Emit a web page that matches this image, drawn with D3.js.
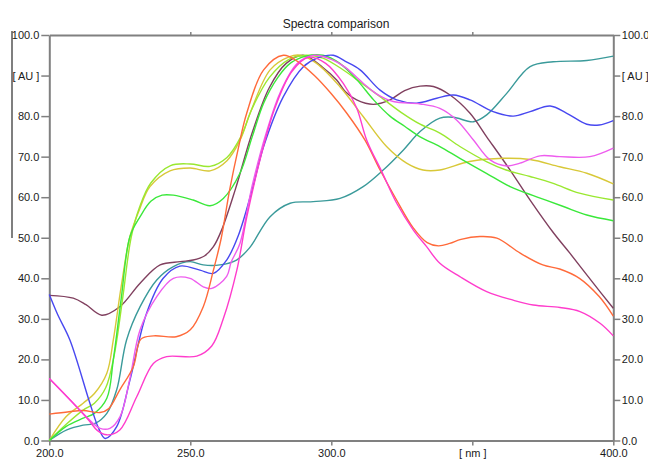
<!DOCTYPE html>
<html>
<head>
<meta charset="utf-8">
<script src="https://cdn.jsdelivr.net/npm/d3@7"></script>
<style>
	html, body { margin:0; padding:0; background:#fff; }
	svg text { font-family: "Liberation Sans", Arial, sans-serif; fill:#1a1a1a; }
	.axis path, .axis line { stroke:#808080; }
	.axis path { stroke-width:2; }
	.axis line { stroke-width:1.5; }
	.spectrum { fill:none; stroke-width:1.4; stroke-linejoin:round; }
</style>
</head>
<body>
<div id="chart"></div>
<script>

// spectra, [nm, AU]
const orange = [[200,6.5],[207,7.1],[212,7.4],[218,6.9],[221,7.8],[225,12.5],[229.8,18.2],[232.5,25],[237,25.8],[245,25.6],[250,27.3],[254.6,33],[258.2,42],[261,50],[264,62],[267,72],[270,80.7],[276,91.4],[283,95],[288,93.5],[294,90],[300,85.5],[305.5,80.7],[312,74],[317.3,66.7],[323,59.5],[329,52.5],[334,48.8],[338,48],[342,48.6],[346,49.6],[352.7,50.3],[358.7,49.9],[367,46.2],[375,43.3],[381,42.3],[388,40],[395,35.5],[400,30.7]];
const yellow = [[200,0],[206,5.9],[212,9.2],[216,11.6],[220.4,16.6],[222.7,24.8],[225.5,38],[228.6,50.3],[232,57],[235.7,62.6],[242.8,66.5],[250,67.2],[257,66.5],[263,69],[267.6,74],[271.2,80.7],[278.3,91.4],[285,94.6],[289,95],[294.8,93],[303,87.3],[311.3,79.9],[319.6,72.5],[326.7,68.4],[332.5,66.7],[338.5,66.7],[349,68.8],[361,69.6],[370.5,69.3],[381,67.5],[390.6,65.9],[400,63.3]];
const lime = [[200,0],[206,4],[212,7.5],[216,9.2],[220,13],[223,21],[226,35],[229,50],[232,57.5],[236,63.5],[243,67.8],[250,68.2],[257,67.6],[263,69.8],[268,75],[272,82],[278,89.5],[285,94],[291,95],[297,94.3],[304,91.5],[311,88],[317.3,84.8],[325,80.8],[331.5,78],[338.5,75.8],[345.6,72.5],[355,68.8],[362,66.7],[370.5,65.1],[378.7,63.4],[388,61],[400,59.3]];
const green = [[200,0],[206,3.5],[212,5.5],[216,6.7],[220.4,10.4],[222.7,19.9],[225.5,35],[228.6,50.3],[232.2,55.2],[236,59],[240,60.5],[244,60.5],[251,59.3],[257,57.9],[261.7,59.7],[267.6,65.9],[272,75],[276,83.2],[281,89.5],[285.4,93],[291,94.8],[297,95],[303,93],[309,89],[315,84],[320.8,80],[326,77.5],[331.5,74.9],[338.5,72.5],[345.6,69.6],[355,65.9],[363.4,62.6],[372.8,60.1],[382.3,57.7],[390.6,55.6],[400,54.2]];
const brown = [[200,35.8],[208.5,35.1],[213,33.5],[218.6,30.9],[225,33],[232.2,38.8],[239.3,43.3],[246.4,44.1],[251,44.5],[255,45.5],[258.2,47.8],[261.1,51.9],[266,62],[272,76],[278,87],[284,93],[290,95],[297,92],[301.9,88.9],[305,86],[309,84],[314.9,82.9],[320.8,84],[326,86.3],[331.5,87.4],[336.2,87.3],[342.1,85.2],[349.2,80.7],[355.1,74.9],[363.4,66.7],[370.5,59.3],[378.7,51.3],[384.6,46.2],[392.9,38.8],[400,32.6]];
const teal = [[200,0],[206.2,2.6],[212,3.8],[216.2,4.2],[220.4,6.7],[223.9,12.5],[227.4,24.8],[232.2,33],[238.1,39.6],[244,42.9],[249.9,44.1],[254.6,43.3],[260.5,43.3],[266.4,44.5],[271,47.5],[278.3,55.2],[285.4,58.5],[293.6,58.9],[303.1,59.7],[311.3,62.6],[318.4,66.7],[325.5,71.6],[331.5,76.2],[338.5,79.5],[343.3,79.7],[350.4,78.6],[355.1,80.3],[362.2,85.6],[370.5,92.2],[378.7,93.4],[390.6,93.7],[400,94.8]];
const blue = [[200,36],[203,31],[207.3,24.8],[214.4,9.2],[217.5,3],[219.8,0.5],[223.9,3.4],[228.6,14.9],[234.5,31.4],[240.4,40],[246.3,43],[253.4,42],[258.2,41.2],[262.9,44.5],[267,50.5],[272,62],[276,72.5],[283,84.8],[290.1,92.2],[295,94.3],[300.7,95],[305,93.5],[310.2,91.4],[317.3,86.4],[323.2,84],[330.3,83.2],[337.4,84.4],[343.3,85.2],[349.2,84],[357.4,81.1],[364.5,80],[370.5,81.1],[377.6,82.5],[383.5,80.7],[390.6,78],[395,77.8],[400,78.9]];
const magenta = [[200,15.3],[208.5,9.2],[215.6,4.2],[218,3],[221.5,3],[225.1,5.9],[228.5,15],[232.2,27.3],[238.1,35.5],[244,40],[249.9,40],[254.6,37.9],[257.6,37.5],[262.9,40.5],[264.5,44],[267.6,48.6],[272,63],[277,76],[282,86],[288,93],[294,95],[300,94],[305,92],[311.3,88.1],[316,85.5],[322,83.6],[331.5,83],[338.5,81.9],[344.5,79],[350.4,74.1],[356.3,69.2],[362.2,67.7],[366.9,68.4],[374,70.2],[381.1,70],[391.7,70],[400,72.1]];
const pink = [[200,15.3],[208.5,9.2],[214,5],[217,2.5],[220.4,1.4],[225,2.6],[231,10.8],[236.9,19],[241.6,20.7],[252.3,20.8],[257.6,23.3],[261.7,30],[266.5,42],[270,55],[275,70],[280,82],[286,91],[292,94.5],[298,93],[304.3,88],[309,82],[312.6,74],[317.9,66.3],[323.2,58.5],[329.1,51.9],[333.8,47.8],[338.5,43.7],[345.6,40.4],[355.1,36.7],[364.5,34.6],[371.6,33.4],[381.1,32.8],[388.2,31.8],[395.3,28.9],[400,25.8]];

const seriesNames = ['teal','brown','yellow','lime','green','blue','magenta','orange','pink'];
const seriesData = [teal, brown, yellow, lime, green, blue, magenta, orange, pink];
const seriesColors = ['#3a9a9a','#80405f','#d8c838','#9ae830','#3ae83a','#4848f0','#ee5cee','#ff6a3a','#ff3ccc'];

const yTicks = [0,10,20,30,40,50,60,70,80,90,100];
const xTicks = [200,250,300,350,400];
const title = 'Spectra comparison';

const width = 648;
const height = 465;
const margin = {t:35, r:34.7, b:24.5, l:49.3};
const w = width - margin.l - margin.r;
const h = height - margin.t - margin.b;

const svg = d3.select('#chart').append('svg')
	.attr('width', width)
	.attr('height', height);

// odd stray rule at the far left of the original figure
svg.append('line')
	.attr('x1', 12).attr('x2', 12)
	.attr('y1', 31).attr('y2', 238)
	.style('stroke', '#555')
	.style('stroke-width', 1.5);

svg.append('text')
	.attr('x', 336)
	.attr('y', 28)
	.attr('text-anchor', 'middle')
	.style('font-size', '12px')
	.text(title);

const plot = svg.append('g')
	.attr('transform', `translate(${margin.l},${margin.t})`);

const scaleX = d3.scaleLinear().domain([200,400]).range([0,w]);
const scaleY = d3.scaleLinear().domain([0,100]).range([h,0]);

const fmtY = d => d === 90 ? '[ AU ]' : d.toFixed(1);
const fmtX = d => d === 350 ? '[ nm ]' : d.toFixed(1);

const axisL = d3.axisLeft(scaleY).tickValues(yTicks).tickFormat(fmtY).tickSize(8).tickSizeOuter(0).tickPadding(2);
const axisR = d3.axisRight(scaleY).tickValues(yTicks).tickFormat(fmtY).tickSize(7).tickSizeOuter(0).tickPadding(1.5);
const axisB = d3.axisBottom(scaleX).tickValues(xTicks).tickFormat(fmtX).tickSize(5).tickSizeOuter(0).tickPadding(4);
const axisT = d3.axisTop(scaleX).tickValues([250,300,350]).tickFormat('').tickSize(3).tickSizeOuter(0);

plot.append('g').attr('class','axis axis-t').call(axisT);
plot.append('g').attr('class','axis axis-l').call(axisL);
plot.append('g').attr('class','axis axis-r').attr('transform', `translate(${w},0)`).call(axisR);
plot.append('g').attr('class','axis axis-b').attr('transform', `translate(0,${h})`).call(axisB);

plot.selectAll('.axis text').style('font-size', '11px');

// lines
const line = d3.line()
	.x(d => scaleX(d[0]))
	.y(d => scaleY(d[1]))
	.curve(d3.curveCatmullRom.alpha(0.5));

plot.selectAll('.spectrum')
	.data(seriesData)
	.enter()
	.append('path')
	.attr('class', (d,i) => 'spectrum ' + seriesNames[i])
	.attr('d', line)
	.style('stroke', (d,i) => seriesColors[i]);

</script>
</body>
</html>
